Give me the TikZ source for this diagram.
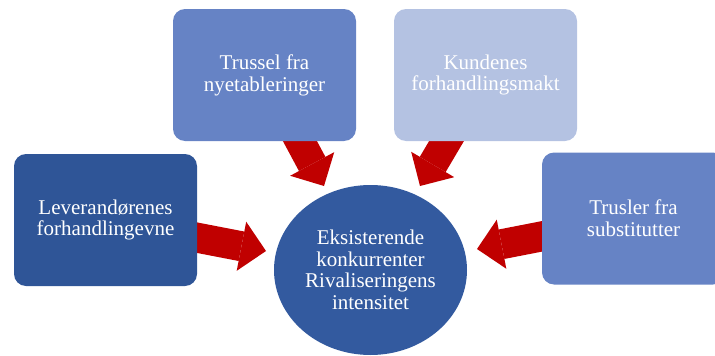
\documentclass[tikz,border=0pt]{standalone}
\usepackage{fontspec}
\setmainfont{Liberation Serif}
\usetikzlibrary{arrows.meta,shapes.geometric,backgrounds}
\definecolor{darkblue}{HTML}{2F5597}
\definecolor{midblue}{HTML}{6683C5}
\definecolor{paleblue}{HTML}{B4C2E2}
\definecolor{ringblue}{HTML}{335A9F}
\definecolor{arrowred}{HTML}{C00000}
\begin{document}
\begin{tikzpicture}[x=1pt,y=-1pt,
  forcebox/.style={rounded corners=12pt, minimum width=183pt, minimum height=132pt,
    inner sep=0pt, align=center, text=white, font=\fontsize{21}{21.8}\selectfont},
  bigarrow/.style={draw=arrowred, line width=30pt,
    -{Triangle[length=25pt,width=50pt,line width=0pt]}}]
\useasboundingbox (0,0) rectangle (715,356);
\node[forcebox, fill=midblue] (new) at (264.5,75) {Trussel fra\\nyetableringer};
\node[forcebox, fill=paleblue] (kund) at (485.5,75) {Kundenes\\forhandlingsmakt};
\node[forcebox, fill=darkblue] (lev) at (105.5,220) {Leverandørenes\\forhandlingevne};
\node[forcebox, fill=midblue] (subst) at (633.5,218.5) {Trusler fra\\substitutter};
\node[ellipse, fill=ringblue, minimum width=193pt, minimum height=170pt, inner sep=0pt,
  align=center, text=white, font=\fontsize{21}{21.5}\selectfont] (rival) at (370.5,270)
  {Eksisterende\\konkurrenter\\Rivaliseringens\\intensitet};
% arrow tips
\coordinate (tipnew) at (324,186);
\coordinate (tipkund) at (420,186);
\coordinate (tiplev) at (266,251);
\coordinate (tipsubst) at (477,249);
\begin{pgfonlayer}{background}
\draw[bigarrow] (new.center) -- (tipnew);
\draw[bigarrow] (kund.center) -- (tipkund);
\draw[bigarrow] (lev.center) -- (tiplev);
\draw[bigarrow] (subst.center) -- (tipsubst);
\end{pgfonlayer}
\end{tikzpicture}
\end{document}
